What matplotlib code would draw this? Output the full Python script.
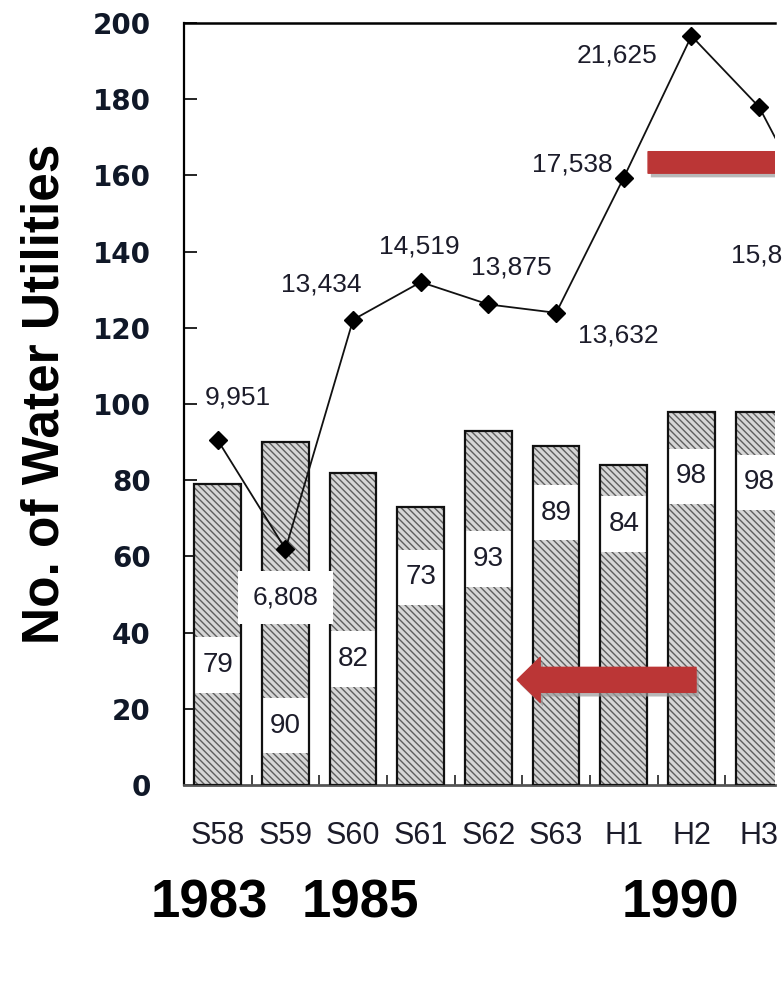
import matplotlib
matplotlib.use("Agg")
import matplotlib.pyplot as plt
from matplotlib import font_manager
from matplotlib.patches import FancyArrowPatch
from matplotlib.transforms import blended_transform_factory
import matplotlib.patheffects as pe

# ---------------- data ----------------
categories = ["S58", "S59", "S60", "S61", "S62", "S63", "H1", "H2", "H3"]
utilities = [79, 90, 82, 73, 93, 89, 84, 98, 98]
line_categories = ["S58", "S59", "S60", "S61", "S62", "S63", "H1", "H2", "H3", "H4"]
line_values = [9951, 6808, 13434, 14519, 13875, 13632, 17538, 21625, 19575, 15850]
line_labels = ["9,951", "6,808", "13,434", "14,519", "13,875", "13,632",
               "17,538", "21,625", "", "15,850"]
years = ["1983", "1985", "1990"]
year_index = [0, 2, 7]
ylabel = "No. of Water Utilities"

# ---------------- layout / style ----------------
bar_label_y = [31.5, 15.6, 33.0, 54.5, 59.3, 71.5, 68.5, 81.0, 79.4]
box_h = 14.6
line_label_off = [(20, 43), (0, -48), (-32, 35), (-1, 36), (23, 37),
                  (62, -23), (-51, 13), (-74, -20), (75, 10), (-56, -19)]
year_dx = [-0.13, 0.10, -0.16]

names = {f.name for f in font_manager.fontManager.ttflist}
narrow = "Liberation Sans Narrow" in names
bar_font = ["Liberation Sans Narrow", "Liberation Sans", "DejaVu Sans"] if narrow else ["Liberation Sans", "DejaVu Sans"]
bar_fs = 22 if narrow else 20
sans = ["Liberation Sans", "DejaVu Sans"]

plt.rcParams["hatch.linewidth"] = 1.0

fig = plt.figure(figsize=(7.83, 10.07), dpi=100)
ax = fig.add_axes([184 / 783, 222 / 1007, (775 - 184) / 783, (984 - 222) / 1007])

x = list(range(len(categories)))
bw = 0.69
ax.bar(x, utilities, width=bw, facecolor="#d6d6d6", edgecolor="#5e5e5e",
       linewidth=0, hatch="\\\\\\\\\\", zorder=2)
ax.bar(x, [box_h] * len(x), bottom=[y - box_h / 2 for y in bar_label_y],
       width=bw * 0.97, color="white", linewidth=0, zorder=3)
ax.bar(x, utilities, width=bw, fill=False, edgecolor="#111111", linewidth=1.6, zorder=4)
for xi, (v, ly) in enumerate(zip(utilities, bar_label_y)):
    ax.text(xi, ly, f"{v}", ha="center", va="center", fontsize=bar_fs,
            family=bar_font, color="#1c1c2a", zorder=5)

ax.set_xlim(-0.5, (775 - 217.5) / 67.7)
ax.set_ylim(0, 200)
ax.set_yticks(range(0, 201, 20))
ax.set_xticks(x)
ax.set_xticklabels(categories, family=sans, fontsize=22, color="#1c1c2a")
ax.set_xticks([i + 0.5 for i in x[:-1]], minor=True)
ax.tick_params(axis="x", which="major", length=0, pad=26)
ax.tick_params(axis="x", which="minor", direction="in", length=7.5, width=1.2, color="#222222")
ax.tick_params(axis="y", which="major", direction="in", length=9.5, width=1.2, pad=24,
               labelsize=20, labelcolor="#101828")
for lab in ax.get_yticklabels():
    lab.set_fontweight("bold")
    lab.set_family(["DejaVu Sans"])
ax.spines["right"].set_visible(False)
ax.spines["top"].set_linewidth(1.8)
ax.spines["left"].set_linewidth(1.6)
ax.spines["bottom"].set_linewidth(2.0)
ax.spines["bottom"].set_color("#555555")

# line on secondary axis
ax2 = ax.twinx()
ax2.set_ylim(0, 22000)
ax2.set_yticks([])
for s in ax2.spines.values():
    s.set_visible(False)
lx = list(range(len(line_categories)))
ax2.plot(lx, line_values, color="#111111", linewidth=1.3, marker="D", markersize=9,
         markerfacecolor="black", markeredgecolor="black", zorder=6)
for i, (v, lab, off) in enumerate(zip(line_values, line_labels, line_label_off)):
    if not lab:
        continue
    kw = {}
    if i == 1:
        kw["bbox"] = dict(boxstyle="square,pad=0.55", facecolor="white", edgecolor="none")
    t = ax2.annotate(lab, xy=(i, v), xytext=off, textcoords="offset pixels",
                     ha="center", va="center", fontsize=19, family=sans,
                     color="#1c1c2a", zorder=7, annotation_clip=False, **kw)
    t.set_clip_on(True)

# red arrows
shadow = [pe.SimplePatchShadow(offset=(2, -3), shadow_rgbFace="#9a9a9a", alpha=0.7), pe.Normal()]
a1 = FancyArrowPatch(((696 - 217.5) / 67.7, 27.6), ((517 - 217.5) / 67.7, 27.6),
                     arrowstyle="simple,head_length=16.6,head_width=32.4,tail_width=18",
                     mutation_scale=1, shrinkA=0, shrinkB=0, color="#bb3636",
                     transform=ax.transData, zorder=8)
a1.set_path_effects(shadow)
ax2.add_patch(a1)
a2 = FancyArrowPatch(((648 - 217.5) / 67.7, 163.4), (9.2, 163.4),
                     arrowstyle="simple,head_length=18,head_width=32,tail_width=15.5",
                     mutation_scale=1, shrinkA=0, shrinkB=0, color="#bb3636",
                     transform=ax.transData, zorder=8)
a2.set_path_effects(shadow)
ax2.add_patch(a2)

# y label and year texts
fig.text(45 / 783, 1 - 394 / 1007, ylabel, rotation=90, ha="center", va="center",
         fontsize=37, fontweight="bold", family=sans, color="black")
tr = blended_transform_factory(ax.transData, fig.transFigure)
for yr, xi, dx in zip(years, year_index, year_dx):
    ax.text(xi + dx, 1 - 918 / 1007, yr, transform=tr, ha="center", va="baseline",
            fontsize=38, fontweight="bold", family=sans, color="black", clip_on=False)

fig.savefig("out.png", dpi=100)
